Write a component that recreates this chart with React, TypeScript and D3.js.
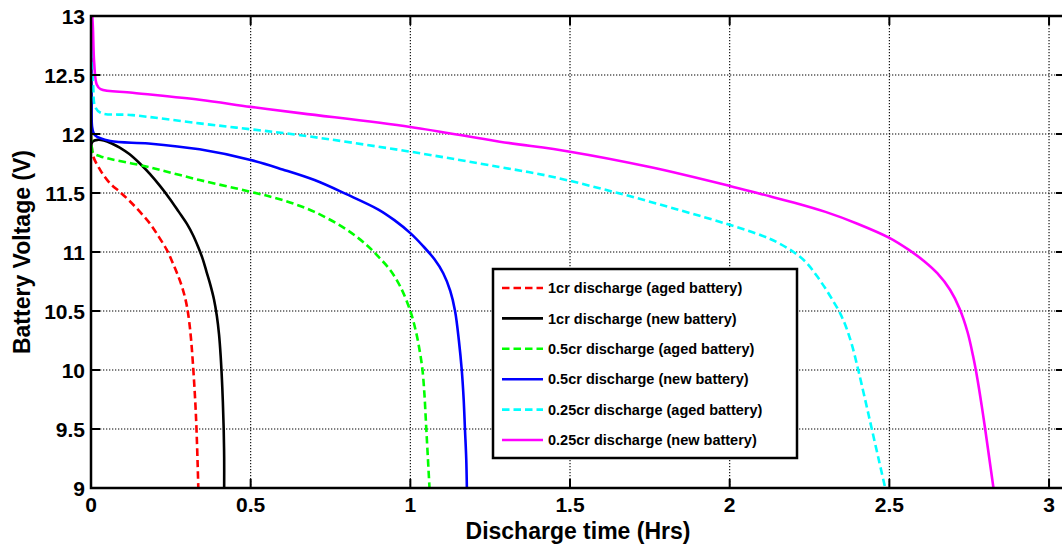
import React from "react";
import * as d3 from "d3";

type Pt = [number, number];

const xTicks = [0, 0.5, 1, 1.5, 2, 2.5, 3];
const yTicks = [9, 9.5, 10, 10.5, 11, 11.5, 12, 12.5, 13];

const red1crAged: Pt[] = [[0, 12.0], [0.002, 11.9], [0.007, 11.81], [0.03, 11.69], [0.06, 11.58], [0.09, 11.51], [0.118, 11.44], [0.15, 11.35], [0.185, 11.24], [0.212, 11.13], [0.237, 11.02], [0.254, 10.92], [0.268, 10.83], [0.282, 10.73], [0.293, 10.63], [0.301, 10.53], [0.308, 10.4], [0.314, 10.24], [0.319, 10.06], [0.324, 9.85], [0.328, 9.65], [0.331, 9.45], [0.334, 9.2], [0.336, 9.0]];
const black1crNew: Pt[] = [[0, 11.9], [0.005, 11.935], [0.02, 11.95], [0.04, 11.945], [0.065, 11.92], [0.09, 11.885], [0.12, 11.83], [0.153, 11.75], [0.185, 11.66], [0.216, 11.56], [0.247, 11.45], [0.275, 11.34], [0.3, 11.24], [0.32, 11.14], [0.336, 11.04], [0.35, 10.94], [0.362, 10.83], [0.374, 10.72], [0.385, 10.6], [0.394, 10.46], [0.401, 10.3], [0.406, 10.12], [0.41, 9.92], [0.413, 9.72], [0.4155, 9.5], [0.417, 9.25], [0.417, 9.0]];
const green05crAged: Pt[] = [[0, 12.0], [0.002, 11.9], [0.007, 11.84], [0.03, 11.81], [0.18, 11.72], [0.34, 11.61], [0.5, 11.51], [0.6, 11.44], [0.7, 11.34], [0.8, 11.19], [0.863, 11.06], [0.9, 10.96], [0.936, 10.85], [0.968, 10.71], [1.0, 10.5], [1.018, 10.32], [1.03, 10.15], [1.038, 10.0], [1.044, 9.8], [1.049, 9.55], [1.054, 9.3], [1.06, 9.0]];
const blue05crNew: Pt[] = [[0, 13], [0.002, 12.3], [0.004, 12.05], [0.012, 11.99], [0.06, 11.94], [0.18, 11.92], [0.34, 11.87], [0.5, 11.78], [0.6, 11.7], [0.7, 11.61], [0.8, 11.49], [0.9, 11.36], [0.95, 11.27], [1.0, 11.16], [1.04, 11.05], [1.075, 10.94], [1.103, 10.82], [1.125, 10.67], [1.14, 10.5], [1.152, 10.25], [1.161, 10.0], [1.167, 9.75], [1.171, 9.5], [1.175, 9.25], [1.177, 9.0]];
const cyan025crAged: Pt[] = [[0, 13], [0.002, 12.9], [0.003, 12.7], [0.007, 12.4], [0.013, 12.23], [0.03, 12.18], [0.13, 12.16], [0.34, 12.09], [0.5, 12.04], [0.655, 11.99], [1.0, 11.85], [1.28, 11.72], [1.44, 11.64], [1.65, 11.5], [1.85, 11.35], [2.0, 11.23], [2.1, 11.14], [2.15, 11.08], [2.2, 11.0], [2.24, 10.91], [2.272, 10.8], [2.3, 10.69], [2.325, 10.58], [2.346, 10.48], [2.365, 10.36], [2.383, 10.21], [2.4, 10.03], [2.413, 9.88], [2.43, 9.68], [2.445, 9.5], [2.466, 9.25], [2.487, 9.0]];
const magenta025crNew: Pt[] = [[0.004, 13.0], [0.006, 12.9], [0.01, 12.6], [0.018, 12.42], [0.03, 12.38], [0.13, 12.35], [0.34, 12.29], [0.5, 12.23], [0.66, 12.175], [1.0, 12.06], [1.28, 11.935], [1.5, 11.85], [1.75, 11.72], [2.0, 11.56], [2.1, 11.49], [2.2, 11.42], [2.3, 11.34], [2.4, 11.24], [2.5, 11.12], [2.56, 11.02], [2.61, 10.92], [2.65, 10.82], [2.69, 10.68], [2.72, 10.52], [2.745, 10.32], [2.762, 10.12], [2.776, 9.92], [2.789, 9.7], [2.8, 9.5], [2.813, 9.25], [2.826, 9.0]];

const seriesNames = [
  "1cr discharge (aged battery)",
  "1cr discharge (new battery)",
  "0.5cr discharge (aged battery)",
  "0.5cr discharge (new battery)",
  "0.25cr discharge (aged battery)",
  "0.25cr discharge (new battery)",
];
const seriesData = [red1crAged, black1crNew, green05crAged, blue05crNew, cyan025crAged, magenta025crNew];
const seriesColors = ["#ff0000", "#000000", "#00ff00", "#0000ff", "#00ffff", "#ff00ff"];
const seriesDashed = [true, false, true, false, true, false];

const W = 1062;
const H = 547;
const L = 91, R = 1065, T = 16, B = 488;
const FONT = "'Liberation Sans', Arial, Helvetica, sans-serif";

export default function App() {
  const x = d3.scaleLinear().domain([0, 3.05]).range([L, R]);
  const y = d3.scaleLinear().domain([9, 13]).range([B, T]);
  const line = d3
    .line<Pt>()
    .x((d) => x(d[0]))
    .y((d) => y(d[1]))
    .curve(d3.curveCatmullRom.alpha(0.5));

  const tickLen = 9;
  const legX = 493, legY = 269, legW = 304, legH = 189;
  const rowY0 = 288, rowStep = 30.4;

  return (
    <svg
      width={W}
      height={H}
      style={{ position: "absolute", left: 0, top: 0, background: "#fff" }}
      fontFamily={FONT}
    >
      <defs>
        <clipPath id="plotclip">
          <rect x={L} y={T} width={R - L} height={B - T} />
        </clipPath>
      </defs>
      <rect x={0} y={0} width={W} height={H} fill="#fff" />
      {/* grid */}
      <g stroke="#000" strokeWidth={1.1} strokeDasharray="1.3,1.7">
        {xTicks.map((t) => (
          <line key={"gx" + t} x1={x(t)} x2={x(t)} y1={T} y2={B} />
        ))}
        {yTicks.map((t) => (
          <line key={"gy" + t} x1={L} x2={R} y1={y(t)} y2={y(t)} />
        ))}
      </g>
      {/* curves */}
      <g clipPath="url(#plotclip)" fill="none">
        {seriesData.map((d, i) => (
          <path
            key={"s" + i}
            d={line(d) || ""}
            stroke={seriesColors[i]}
            strokeWidth={2.6}
            strokeDasharray={seriesDashed[i] ? "7.5,4" : undefined}
            strokeLinejoin="round"
          />
        ))}
      </g>
      {/* ticks */}
      <g stroke="#000" strokeWidth={2}>
        {xTicks.map((t) => (
          <g key={"tx" + t}>
            <line x1={x(t)} x2={x(t)} y1={B} y2={B - tickLen} />
            <line x1={x(t)} x2={x(t)} y1={T} y2={T + tickLen} />
          </g>
        ))}
        {yTicks.map((t) => (
          <g key={"ty" + t}>
            <line x1={L} x2={L + tickLen} y1={y(t)} y2={y(t)} />
            <line x1={R} x2={R - tickLen} y1={y(t)} y2={y(t)} />
          </g>
        ))}
      </g>
      {/* axes box */}
      <rect x={L} y={T} width={R - L} height={B - T} fill="none" stroke="#000" strokeWidth={2.5} />
      {/* tick labels */}
      <g fontWeight="bold" fontSize={21} fill="#000">
        {xTicks.map((t) => (
          <text key={"lx" + t} x={x(t)} y={512} textAnchor="middle">
            {String(t)}
          </text>
        ))}
        {yTicks.map((t) => (
          <text key={"ly" + t} x={85} y={y(t)} dy="0.36em" textAnchor="end">
            {String(t)}
          </text>
        ))}
      </g>
      {/* axis labels */}
      <text x={(L + R) / 2} y={539} textAnchor="middle" fontWeight="bold" fontSize={23}>
        Discharge time (Hrs)
      </text>
      <text
        transform={`translate(30, ${(T + B) / 2}) rotate(-90)`}
        textAnchor="middle"
        fontWeight="bold"
        fontSize={23}
      >
        Battery Voltage (V)
      </text>
      {/* legend */}
      <rect x={legX} y={legY} width={legW} height={legH} fill="#fff" stroke="#000" strokeWidth={2.5} />
      {seriesNames.map((name, i) => {
        const cy = rowY0 + i * rowStep;
        return (
          <g key={"lg" + i}>
            <line
              x1={502}
              x2={543}
              y1={cy}
              y2={cy}
              stroke={seriesColors[i]}
              strokeWidth={2.6}
              strokeDasharray={seriesDashed[i] ? "7.5,4" : undefined}
            />
            <text x={548} y={cy} dy="0.36em" fontWeight="bold" fontSize={14.5}>
              {name}
            </text>
          </g>
        );
      })}
    </svg>
  );
}
